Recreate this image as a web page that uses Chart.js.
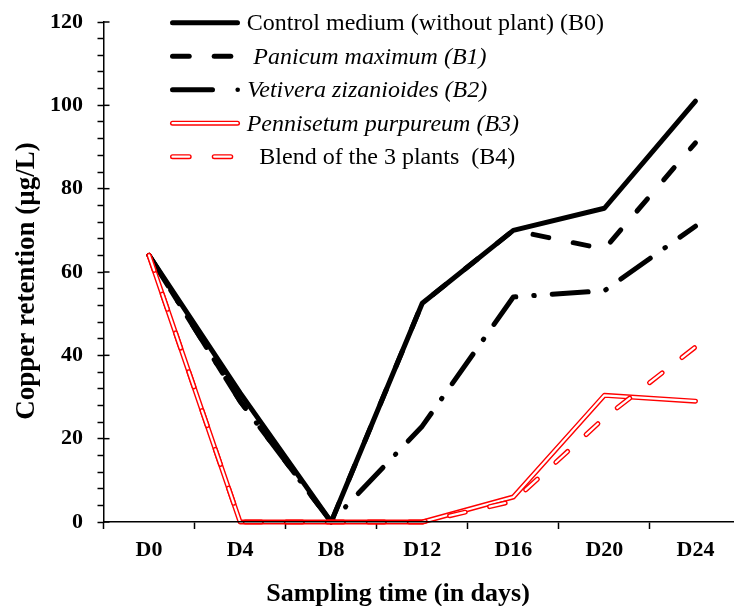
<!DOCTYPE html>
<html>
<head>
<meta charset="utf-8">
<script src="https://cdn.jsdelivr.net/npm/chart.js@4"></script>
<style>
  html, body { margin: 0; padding: 0; background: #fff; overflow: hidden; }
  #wrap { width: 734px; height: 606px; overflow: hidden; }
</style>
</head>
<body>
<div id="wrap"><canvas id="myChart" width="741" height="606"></canvas></div>
<script>
// données
const categories = ['D0', 'D4', 'D8', 'D12', 'D16', 'D20', 'D24'];
const controlB0 = [64, 31, 0, 52.5, 70, 75.3, 101];
const panicumB1 = [64, 29, 0, 52.5, 70, 65.5, 91];
const vetiveraB2 = [64, 29, 0, 23, 54, 55.5, 71];
const pennisetumB3 = [64, 0, 0, 0, 6, 30.4, 29];
const blendB4 = [64, 0, 0, 0, 5, 25, 42];
const yTickLabels = [0, 20, 40, 60, 80, 100, 120];

const xTitle = 'Sampling time (in days)';
const yTitle = 'Copper retention (\u00b5g/L)';
const serif = '"Liberation Serif", "Times New Roman", serif';

const legendItems = [
    { label: 'Control medium (without plant) (B0)', italic: false, kind: 'solid', tx: 246.7 },
    { label: 'Panicum maximum (B1)', italic: true, kind: 'dash', tx: 253.3 },
    { label: 'Vetivera zizanioides (B2)', italic: true, kind: 'dashdot', tx: 247.3 },
    { label: 'Pennisetum purpureum (B3)', italic: true, kind: 'double', tx: 246.7 },
    { label: 'Blend of the 3 plants  (B4)', italic: false, kind: 'doubledash', tx: 259.3 }
];

function seg(ctx, x1, y1, x2, y2) {
    ctx.beginPath();
    ctx.moveTo(x1, y1);
    ctx.lineTo(x2, y2);
    ctx.stroke();
}

// légende, titres et demi-graduations intérieures
const extras = {
    id: 'extras',
    afterDraw(chart) {
        const ctx = chart.ctx;
        const ys = chart.scales.y;
        const x0 = chart.chartArea.left;
        ctx.save();
        ctx.strokeStyle = '#000';
        ctx.lineWidth = 1.5;
        yTickLabels.forEach(v => {
            const py = ys.getPixelForValue(v);
            seg(ctx, x0, py, x0 + 6, py);
        });

        ctx.fillStyle = '#000';
        ctx.font = 'bold 26px ' + serif;
        ctx.textAlign = 'center';
        ctx.textBaseline = 'alphabetic';
        ctx.fillText(xTitle, 398, 601);
        ctx.save();
        ctx.translate(34, 281);
        ctx.rotate(-Math.PI / 2);
        ctx.font = 'bold 27px ' + serif;
        ctx.fillText(yTitle, 0, 0);
        ctx.restore();

        ctx.lineCap = 'round';
        legendItems.forEach((it, i) => {
            const y = 22.7 + i * 33.5;
            if (it.kind === 'solid') {
                ctx.strokeStyle = '#000'; ctx.lineWidth = 5;
                seg(ctx, 172.5, y, 237.5, y);
            } else if (it.kind === 'dash') {
                ctx.strokeStyle = '#000'; ctx.lineWidth = 5;
                seg(ctx, 172.5, y, 189.2, y);
                seg(ctx, 214.2, y, 230.8, y);
            } else if (it.kind === 'dashdot') {
                ctx.strokeStyle = '#000'; ctx.lineWidth = 5;
                seg(ctx, 172.5, y, 212.5, y);
                ctx.beginPath(); ctx.arc(237.7, y, 2.3, 0, Math.PI * 2); ctx.fill();
            } else {
                const parts = it.kind === 'double' ? [[172.5, 237.5]] : [[172.5, 189.2], [214.2, 230.8]];
                parts.forEach(p => {
                    ctx.strokeStyle = '#ff0000'; ctx.lineWidth = 5;
                    seg(ctx, p[0], y, p[1], y);
                    ctx.strokeStyle = '#ffffff'; ctx.lineWidth = 2.2;
                    seg(ctx, p[0], y, p[1], y);
                });
            }
            ctx.fillStyle = '#000';
            ctx.font = (it.italic ? 'italic ' : '') + '24px ' + serif;
            ctx.textAlign = 'left';
            ctx.textBaseline = 'middle';
            ctx.fillText(it.label, it.tx, y + 1);
        });
        ctx.restore();
    }
};

const ctx = document.getElementById('myChart').getContext('2d');
const myChart = new Chart(ctx, {
    type: 'line',
    data: {
        labels: categories,
        datasets: [
            { label: '', data: blendB4, borderColor: '#ffffff', borderWidth: 2.2, borderDash: [16, 25], borderCapStyle: 'round', order: 0 },
            { label: 'Blend of the 3 plants (B4)', data: blendB4, borderColor: '#ff0000', borderWidth: 5, borderDash: [16, 25], borderCapStyle: 'round', order: 1 },
            { label: '', data: pennisetumB3, borderColor: '#ffffff', borderWidth: 2.2, borderCapStyle: 'round', order: 2 },
            { label: 'Pennisetum purpureum (B3)', data: pennisetumB3, borderColor: '#ff0000', borderWidth: 5, borderCapStyle: 'round', order: 3 },
            { label: 'Control medium (without plant) (B0)', data: controlB0, borderColor: '#000', borderWidth: 5, borderCapStyle: 'round', order: 4 },
            { label: 'Panicum maximum (B1)', data: panicumB1, borderColor: '#000', borderWidth: 5, borderDash: [16, 25], borderCapStyle: 'round', order: 5 },
            { label: 'Vetivera zizanioides (B2)', data: vetiveraB2, borderColor: '#000', borderWidth: 5, borderDash: [36, 18, 0.5, 18], borderCapStyle: 'round', order: 6 }
        ]
    },
    options: {
        responsive: false,
        animation: false,
        devicePixelRatio: 1,
        layout: { padding: { top: 22, left: 0, right: 0, bottom: 0 } },
        elements: {
            point: { radius: 0, hoverRadius: 0 },
            line: { tension: 0, fill: false, borderJoinStyle: 'round' }
        },
        datasets: { line: { clip: false } },
        plugins: { legend: { display: false }, tooltip: { enabled: false } },
        scales: {
            x: {
                offset: true,
                grid: { offset: true, drawOnChartArea: false, color: '#000', tickLength: 7, tickWidth: 1.5 },
                border: { color: '#000', width: 1.5, z: 1 },
                ticks: { color: '#000', padding: 8, font: { family: serif, size: 22, weight: 'bold' } },
                afterFit: s => { s.height = 84; }
            },
            y: {
                min: 0,
                max: 120,
                grid: { drawOnChartArea: false, color: '#000', tickLength: 6, tickWidth: 1.5 },
                border: { color: '#000', width: 1.5, z: 1 },
                ticks: {
                    stepSize: 4,
                    autoSkip: false,
                    padding: 14.5,
                    color: '#000',
                    font: { family: serif, size: 22, weight: 'bold', lineHeight: 0.5 },
                    callback: v => (yTickLabels.includes(v) ? v : '')
                },
                afterFit: s => { s.width = 103.5; }
            }
        }
    },
    plugins: [extras]
});
</script>
</body>
</html>
